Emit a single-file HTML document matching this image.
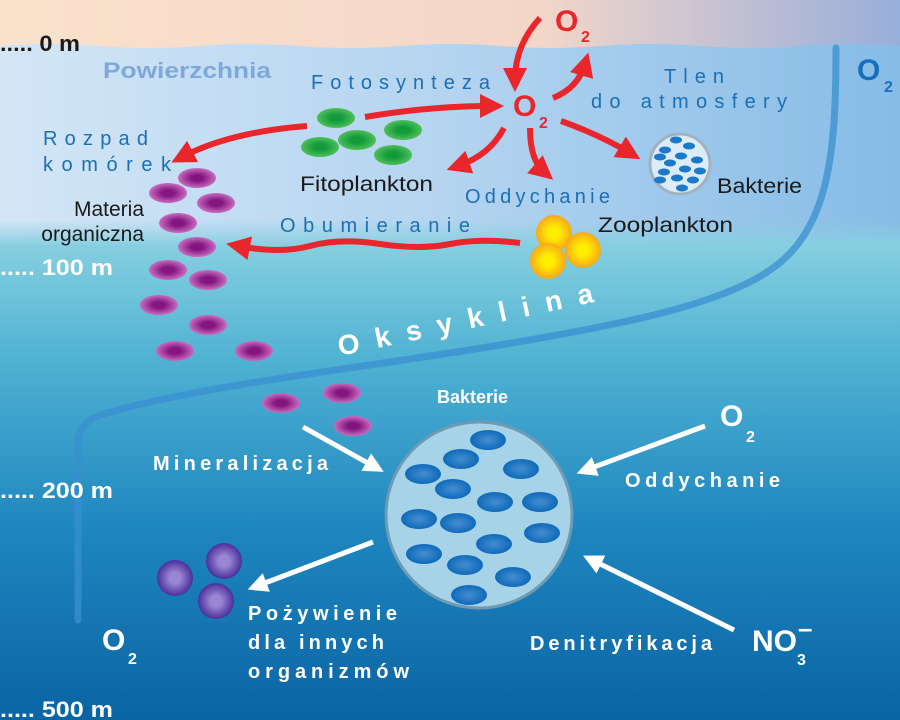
<!DOCTYPE html>
<html><head><meta charset="utf-8"><style>
html,body{margin:0;padding:0;width:900px;height:720px;overflow:hidden;}
svg{display:block;}
text{font-family:"Liberation Sans","DejaVu Sans",sans-serif;}
</style></head><body>
<svg width="900" height="720" viewBox="0 0 900 720" xmlns="http://www.w3.org/2000/svg">
<defs>
<linearGradient id="sky" x1="0" x2="1" y1="0" y2="0">
<stop offset="0" stop-color="#fbe2cc"/><stop offset="0.6" stop-color="#f3d6c8"/><stop offset="1" stop-color="#98aedb"/></linearGradient>
<linearGradient id="upper" x1="0" x2="1" y1="0" y2="0">
<stop offset="0" stop-color="#d3e6f6"/><stop offset="0.5" stop-color="#b4d4f0"/><stop offset="1" stop-color="#86bce6"/></linearGradient>
<linearGradient id="deep" x1="0" x2="0" y1="0" y2="1">
<stop offset="0" stop-color="#85cfe0"/><stop offset="0.25" stop-color="#4eb1d2"/><stop offset="0.6" stop-color="#1e86bf"/><stop offset="1" stop-color="#0b64a4"/></linearGradient>
<linearGradient id="fade" x1="0" x2="0" y1="0" y2="1">
<stop offset="0" stop-color="#8ccfe0" stop-opacity="0"/><stop offset="1" stop-color="#85cfe0" stop-opacity="1"/></linearGradient>
<radialGradient id="pur"><stop offset="0.3" stop-color="#84157e"/><stop offset="1" stop-color="#c86cc0"/></radialGradient>
<radialGradient id="grn"><stop offset="0.3" stop-color="#129a3a"/><stop offset="1" stop-color="#4dc05a"/></radialGradient>
<radialGradient id="yel"><stop offset="0.3" stop-color="#ffee00"/><stop offset="1" stop-color="#f7a81a"/></radialGradient>
<radialGradient id="blu"><stop offset="0.1" stop-color="#3f8ad0"/><stop offset="1" stop-color="#0f6ab8"/></radialGradient>
<radialGradient id="vio"><stop offset="0.3" stop-color="#9a86d2"/><stop offset="1" stop-color="#4a2f9a"/></radialGradient>
<marker id="ra" markerWidth="4" markerHeight="4" refX="2" refY="2" orient="auto" markerUnits="strokeWidth"><path d="M0,0 L4,2 L0,4 Z" fill="#e8262b"/></marker>
<marker id="wa" markerWidth="4" markerHeight="4" refX="2" refY="2" orient="auto" markerUnits="strokeWidth"><path d="M0,0 L4,2 L0,4 Z" fill="#fff"/></marker>
</defs>
<rect width="900" height="720" fill="url(#sky)"/>
<path d="M0,46 Q50,42 100,46 T200,46 T300,46 T400,46 T500,46 T600,46 T700,46 T800,46 T900,46 L900,720 L0,720Z" fill="url(#upper)"/>
<rect x="0" y="245" width="900" height="475" fill="url(#deep)"/>
<rect x="0" y="220" width="900" height="26" fill="url(#fade)"/>
<path d="M836,48 C836,150 830,230 770,270 C720,305 620,325 500,345 C350,370 200,385 100,415 C75,425 78,440 78,460 L78,620" fill="none" stroke="#3a8fd0" stroke-width="7" stroke-linecap="round" opacity="0.75"/>
<g font-weight="bold" font-size="22">
<text x="0" y="51" fill="#1a1a1a" textLength="80" lengthAdjust="spacingAndGlyphs">..... 0 m</text>
<text x="0" y="275" fill="#fff" textLength="113" lengthAdjust="spacingAndGlyphs">..... 100 m</text>
<text x="0" y="498" fill="#fff" textLength="113" lengthAdjust="spacingAndGlyphs">..... 200 m</text>
<text x="0" y="717" fill="#fff" textLength="113" lengthAdjust="spacingAndGlyphs">..... 500 m</text>
</g>
<text x="103" y="78" font-size="22" font-weight="bold" fill="#7ea8da" textLength="168" lengthAdjust="spacingAndGlyphs">Powierzchnia</text>
<g font-size="20" fill="#1a6fb5">
<text x="311" y="89" textLength="179">Fotosynteza</text>
<text x="43" y="145" textLength="105">Rozpad</text>
<text x="43" y="171" textLength="128">komórek</text>
<text x="280" y="232" textLength="190">Obumieranie</text>
<text x="465" y="203" textLength="145">Oddychanie</text>
<text x="664" y="83" textLength="60">Tlen</text>
<text x="591" y="108" textLength="196">do atmosfery</text>
</g>
<g font-size="21" fill="#1a1a1a">
<text x="300" y="191" textLength="133" lengthAdjust="spacingAndGlyphs">Fitoplankton</text>
<text x="144" y="216" text-anchor="end">Materia</text>
<text x="144" y="241" text-anchor="end">organiczna</text>
<text x="717" y="193" textLength="85" lengthAdjust="spacingAndGlyphs">Bakterie</text>
<text x="598" y="232" textLength="135" lengthAdjust="spacingAndGlyphs">Zooplankton</text>
</g>
<g font-weight="bold" fill="#e8262b">
<text x="555" y="31" font-size="30">O</text><text x="581" y="42" font-size="16">2</text>
<text x="513" y="116" font-size="30">O</text><text x="539" y="128" font-size="16">2</text>
</g>
<g font-weight="bold" fill="#1670bd"><text x="857" y="80" font-size="30">O</text><text x="884" y="92" font-size="16">2</text></g>
<g fill="none" stroke="#e8262b" stroke-width="6" marker-end="url(#ra)">
<path d="M365,117 Q430,106 492,106"/>
<path d="M307,126 Q230,132 182,157"/>
<path d="M540,18 Q515,45 515,80"/>
<path d="M553,98 Q578,88 585,64"/>
<path d="M504,128 Q490,155 458,166"/>
<path d="M530,128 Q530,160 544,172"/>
<path d="M561,121 Q600,135 630,153"/>
<path d="M520,243 Q480,238 450,244 T380,244 T310,246 T238,246"/>
</g>
<g fill="url(#grn)">
<ellipse cx="336" cy="118" rx="19" ry="10"/><ellipse cx="320" cy="147" rx="19" ry="10"/><ellipse cx="357" cy="140" rx="19" ry="10"/><ellipse cx="403" cy="130" rx="19" ry="10"/><ellipse cx="393" cy="155" rx="19" ry="10"/>
</g>
<g fill="url(#pur)">
<ellipse cx="197" cy="178" rx="19" ry="10"/><ellipse cx="168" cy="193" rx="19" ry="10"/><ellipse cx="216" cy="203" rx="19" ry="10"/><ellipse cx="178" cy="223" rx="19" ry="10"/><ellipse cx="197" cy="247" rx="19" ry="10"/><ellipse cx="168" cy="270" rx="19" ry="10"/><ellipse cx="208" cy="280" rx="19" ry="10"/><ellipse cx="159" cy="305" rx="19" ry="10"/><ellipse cx="208" cy="325" rx="19" ry="10"/><ellipse cx="175" cy="351" rx="19" ry="10"/><ellipse cx="254" cy="351" rx="19" ry="10"/><ellipse cx="281" cy="403" rx="19" ry="10"/><ellipse cx="342" cy="393" rx="19" ry="10"/><ellipse cx="353" cy="426" rx="19" ry="10"/>
</g>
<g fill="url(#yel)"><circle cx="554" cy="233" r="18"/><circle cx="583" cy="250" r="18"/><circle cx="548" cy="261" r="18"/></g>
<circle cx="680" cy="164" r="30" fill="#dbecf7" stroke="#9fb2c0" stroke-width="3"/>
<g fill="#1c78c8">
<ellipse cx="676" cy="140" rx="6" ry="3.5"/><ellipse cx="689" cy="146" rx="6" ry="3.5"/><ellipse cx="665" cy="150" rx="6" ry="3.5"/><ellipse cx="681" cy="156" rx="6" ry="3.5"/><ellipse cx="660" cy="157" rx="6" ry="3.5"/><ellipse cx="697" cy="160" rx="6" ry="3.5"/><ellipse cx="670" cy="163" rx="6" ry="3.5"/><ellipse cx="685" cy="169" rx="6" ry="3.5"/><ellipse cx="700" cy="171" rx="6" ry="3.5"/><ellipse cx="664" cy="172" rx="6" ry="3.5"/><ellipse cx="677" cy="178" rx="6" ry="3.5"/><ellipse cx="693" cy="180" rx="6" ry="3.5"/><ellipse cx="660" cy="180" rx="6" ry="3.5"/><ellipse cx="682" cy="188" rx="6" ry="3.5"/>
</g>
<text x="340" y="356" font-size="28" font-weight="bold" fill="#fff" letter-spacing="16" transform="rotate(-12 340 356)">Oksyklina</text>
<text x="437" y="403" font-size="18" font-weight="bold" fill="#fff">Bakterie</text>
<circle cx="479" cy="515" r="93" fill="#a6d3e8" stroke="#6e9bb3" stroke-width="3"/>
<g fill="url(#blu)">
<ellipse cx="488" cy="440" rx="18" ry="10"/><ellipse cx="461" cy="459" rx="18" ry="10"/><ellipse cx="423" cy="474" rx="18" ry="10"/><ellipse cx="521" cy="469" rx="18" ry="10"/><ellipse cx="453" cy="489" rx="18" ry="10"/><ellipse cx="495" cy="502" rx="18" ry="10"/><ellipse cx="540" cy="502" rx="18" ry="10"/><ellipse cx="419" cy="519" rx="18" ry="10"/><ellipse cx="458" cy="523" rx="18" ry="10"/><ellipse cx="542" cy="533" rx="18" ry="10"/><ellipse cx="494" cy="544" rx="18" ry="10"/><ellipse cx="424" cy="554" rx="18" ry="10"/><ellipse cx="465" cy="565" rx="18" ry="10"/><ellipse cx="513" cy="577" rx="18" ry="10"/><ellipse cx="469" cy="595" rx="18" ry="10"/>
</g>
<g fill="url(#vio)"><circle cx="175" cy="578" r="18"/><circle cx="224" cy="561" r="18"/><circle cx="216" cy="601" r="18"/></g>
<g stroke="#fff" stroke-width="5" marker-end="url(#wa)">
<line x1="303" y1="427" x2="375" y2="467"/>
<line x1="373" y1="542" x2="257" y2="586"/>
<line x1="705" y1="426" x2="586" y2="470"/>
<line x1="734" y1="630" x2="592" y2="560"/>
</g>
<g font-size="20" font-weight="bold" fill="#fff">
<text x="153" y="470" textLength="175">Mineralizacja</text>
<text x="625" y="487" textLength="155">Oddychanie</text>
<text x="248" y="620" textLength="149">Pożywienie</text>
<text x="248" y="649" textLength="136">dla innych</text>
<text x="248" y="678" textLength="161">organizmów</text>
<text x="530" y="650" textLength="182">Denitryfikacja</text>
</g>
<g font-weight="bold" fill="#fff">
<text x="720" y="426" font-size="30">O</text><text x="746" y="442" font-size="16">2</text>
<text x="102" y="650" font-size="30">O</text><text x="128" y="664" font-size="16">2</text>
<text x="752" y="651" font-size="30">NO</text><text x="797" y="665" font-size="16">3</text><text x="798" y="637" font-size="26">–</text>
</g>
</svg>
</body></html>
